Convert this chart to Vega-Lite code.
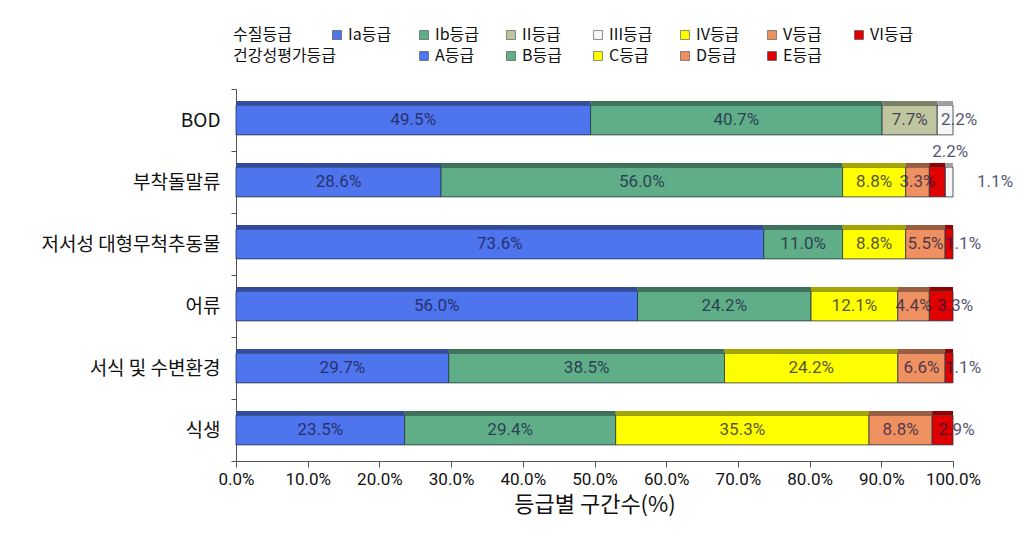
{
  "$schema": "https://vega.github.io/schema/vega-lite/v6.json",
  "width": 717,
  "height": 372,
  "autosize": {"type": "none"},
  "padding": {"left": 236, "top": 89, "right": 71, "bottom": 95},
  "background": "white",
  "config": {
    "view": {"stroke": null},
    "font": "Noto Sans CJK KR",
    "legend": {
      "orient": "none",
      "direction": "horizontal",
      "gridAlign": "all",
      "padding": 0,
      "titleOrient": "left",
      "titleBaseline": "middle",
      "labelFontSize": 16,
      "labelColor": "#111111",
      "labelOffset": 3,
      "symbolType": "square",
      "symbolSize": 80,
      "symbolStrokeColor": "#444444",
      "symbolStrokeWidth": 0.6
    }
  },
  "data": {
    "values": [
      {"item": "BOD", "g": "Ia등급", "v": 49.5, "n": 1},
      {"item": "BOD", "g": "Ib등급", "v": 40.7, "n": 2},
      {"item": "BOD", "g": "II등급", "v": 7.7, "n": 3},
      {"item": "BOD", "g": "III등급", "v": 2.2, "n": 4},
      {"item": "부착돌말류", "g": "A등급", "v": 28.6, "n": 1},
      {"item": "부착돌말류", "g": "B등급", "v": 56.0, "n": 2},
      {"item": "부착돌말류", "g": "C등급", "v": 8.8, "n": 3},
      {"item": "부착돌말류", "g": "D등급", "v": 3.3, "n": 4},
      {"item": "부착돌말류", "g": "E등급", "v": 2.2, "n": 5},
      {"item": "부착돌말류", "g": "III등급", "v": 1.1, "n": 6},
      {"item": "저서성 대형무척추동물", "g": "A등급", "v": 73.6, "n": 1},
      {"item": "저서성 대형무척추동물", "g": "B등급", "v": 11.0, "n": 2},
      {"item": "저서성 대형무척추동물", "g": "C등급", "v": 8.8, "n": 3},
      {"item": "저서성 대형무척추동물", "g": "D등급", "v": 5.5, "n": 4},
      {"item": "저서성 대형무척추동물", "g": "E등급", "v": 1.1, "n": 5},
      {"item": "어류", "g": "A등급", "v": 56.0, "n": 1},
      {"item": "어류", "g": "B등급", "v": 24.2, "n": 2},
      {"item": "어류", "g": "C등급", "v": 12.1, "n": 3},
      {"item": "어류", "g": "D등급", "v": 4.4, "n": 4},
      {"item": "어류", "g": "E등급", "v": 3.3, "n": 5},
      {"item": "서식 및 수변환경", "g": "A등급", "v": 29.7, "n": 1},
      {"item": "서식 및 수변환경", "g": "B등급", "v": 38.5, "n": 2},
      {"item": "서식 및 수변환경", "g": "C등급", "v": 24.2, "n": 3},
      {"item": "서식 및 수변환경", "g": "D등급", "v": 6.6, "n": 4},
      {"item": "서식 및 수변환경", "g": "E등급", "v": 1.1, "n": 5},
      {"item": "식생", "g": "A등급", "v": 23.5, "n": 1},
      {"item": "식생", "g": "B등급", "v": 29.4, "n": 2},
      {"item": "식생", "g": "C등급", "v": 35.3, "n": 3},
      {"item": "식생", "g": "D등급", "v": 8.8, "n": 4},
      {"item": "식생", "g": "E등급", "v": 2.9, "n": 5}
    ]
  },
  "transform": [
    {"stack": "v", "groupby": ["item"], "sort": [{"field": "n"}], "offset": "normalize", "as": ["x0", "x1"]},
    {"calculate": "(datum.x0 + datum.x1) / 2", "as": "mid"},
    {"calculate": "format(datum.v, '.1f') + '%'", "as": "lab"},
    {"calculate": "datum.item == 'BOD' || datum.g == 'III등급'", "as": "water"}
  ],
  "encoding": {
    "y": {
      "field": "item",
      "type": "nominal",
      "sort": ["BOD", "부착돌말류", "저서성 대형무척추동물", "어류", "서식 및 수변환경", "식생"],
      "scale": {"paddingInner": 0, "paddingOuter": 0},
      "axis": {
        "title": null,
        "domainColor": "#555555",
        "tickColor": "#555555",
        "tickBand": "extent",
        "tickSize": 5,
        "labelFontSize": 19,
        "labelLimit": 400,
        "labelColor": "#111111",
        "labelPadding": 11
      }
    },
    "x": {
      "field": "x0",
      "type": "quantitative",
      "scale": {"domain": [0, 1]},
      "axis": {
        "format": ".1%",
        "values": [0, 0.1, 0.2, 0.3, 0.4, 0.5, 0.6, 0.7, 0.8, 0.9, 1.0],
        "grid": false,
        "labelOverlap": false,
        "labelFlush": false,
        "domainColor": "#555555",
        "tickColor": "#555555",
        "tickSize": 6,
        "labelFont": "Roboto",
        "labelFontSize": 17,
        "labelColor": "#111111",
        "labelPadding": 4,
        "title": "등급별 구간수(%)",
        "titleFontSize": 22,
        "titleFontWeight": "normal",
        "titleColor": "#111111",
        "titlePadding": 7
      }
    },
    "x2": {"field": "x1"}
  },
  "layer": [
    {
      "transform": [{"filter": "datum.water"}],
      "mark": {"type": "bar", "height": {"band": 0.48}, "stroke": "#2a3340", "strokeWidth": 0.8},
      "encoding": {
        "fill": {
          "field": "g",
          "type": "nominal",
          "scale": {
            "domain": ["Ia등급", "Ib등급", "II등급", "III등급", "IV등급", "V등급", "VI등급"],
            "range": ["#4e74ee", "#5fae87", "#bfc59f", "#f6f6f6", "#ffff00", "#ee9060", "#e00000"]
          },
          "legend": {
            "title": "수질등급",
            "titleFontSize": 16,
            "titleFontWeight": "normal",
            "titleColor": "#111111",
            "columns": 7,
            "legendX": -3,
            "legendY": -62,
            "titlePadding": 37,
            "columnPadding": 23
          }
        }
      }
    },
    {
      "transform": [{"filter": "!datum.water"}],
      "mark": {"type": "bar", "height": {"band": 0.48}, "stroke": "#2a3340", "strokeWidth": 0.8},
      "encoding": {
        "color": {
          "field": "g",
          "type": "nominal",
          "scale": {
            "domain": ["A등급", "B등급", "C등급", "D등급", "E등급"],
            "range": ["#4e74ee", "#5fae87", "#ffff00", "#ee9060", "#e00000"]
          },
          "legend": {
            "title": "건강성평가등급",
            "titleFontSize": 16,
            "titleFontWeight": "normal",
            "titleColor": "#111111",
            "columns": 5,
            "legendX": -3,
            "legendY": -41,
            "titlePadding": 79,
            "columnPadding": 27
          }
        }
      }
    },
    {
      "transform": [{"filter": "datum.water"}],
      "mark": {"type": "bar", "height": 4, "yOffset": -17},
      "encoding": {"fill": {"field": "g", "type": "nominal"}}
    },
    {
      "transform": [{"filter": "!datum.water"}],
      "mark": {"type": "bar", "height": 4, "yOffset": -17},
      "encoding": {"color": {"field": "g", "type": "nominal"}}
    },
    {
      "mark": {"type": "bar", "height": 4, "yOffset": -17, "color": "#000000", "opacity": 0.35},
      "encoding": {}
    },
    {
      "transform": [{"filter": "datum.g != 'E등급' && datum.g != 'III등급'"}],
      "mark": {"type": "text", "fontSize": 17, "font": "Roboto", "color": "#1a1a44", "opacity": 0.75},
      "encoding": {"x": {"field": "mid", "type": "quantitative"}, "x2": null, "text": {"field": "lab"}}
    },
    {
      "transform": [{"filter": "(datum.g == 'E등급' || datum.g == 'III등급') && datum.item != '부착돌말류'"}],
      "mark": {"type": "text", "fontSize": 17, "font": "Roboto", "color": "#1a1a44", "opacity": 0.75, "dx": 14},
      "encoding": {"x": {"field": "mid", "type": "quantitative"}, "x2": null, "text": {"field": "lab"}}
    },
    {
      "transform": [{"filter": "datum.g == 'E등급' && datum.item == '부착돌말류'"}],
      "mark": {"type": "text", "fontSize": 17, "font": "Roboto", "color": "#1a1a44", "opacity": 0.75, "dx": 13, "dy": -30},
      "encoding": {"x": {"field": "mid", "type": "quantitative"}, "x2": null, "text": {"field": "lab"}}
    },
    {
      "transform": [{"filter": "datum.g == 'III등급' && datum.item == '부착돌말류'"}],
      "mark": {"type": "text", "fontSize": 17, "font": "Roboto", "color": "#1a1a44", "opacity": 0.75, "dx": 46},
      "encoding": {"x": {"field": "mid", "type": "quantitative"}, "x2": null, "text": {"field": "lab"}}
    }
  ]
}
